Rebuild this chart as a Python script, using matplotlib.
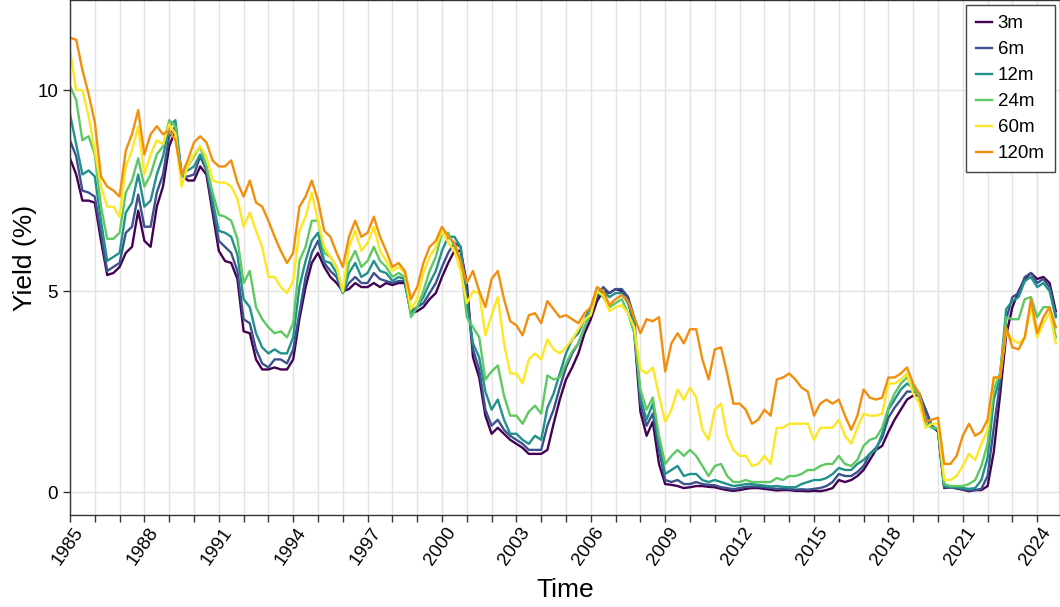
import numpy as np
import matplotlib
matplotlib.use("Agg")
import matplotlib.pyplot as plt
from matplotlib.transforms import ScaledTranslation

plt.rcParams['font.family'] = ['Liberation Sans', 'DejaVu Sans']

# quarterly readings, Q1 1985 .. Q4 2024
t = 1985 + np.arange(160) / 4

y3m = [8.3, 7.9, 7.25, 7.25, 7.2, 6.25, 5.4, 5.45, 5.6, 5.95, 6.1, 7.0, 6.25, 6.1, 7.1, 7.6,
       8.6, 9.0, 7.9, 7.75, 7.75, 8.1, 7.9, 6.95, 6.0, 5.75, 5.7, 5.3, 4.0, 3.95, 3.3, 3.05,
       3.05, 3.1, 3.05, 3.05, 3.3, 4.3, 5.1, 5.7, 5.95, 5.6, 5.35, 5.2, 5.0, 5.05, 5.2, 5.1,
       5.1, 5.2, 5.1, 5.2, 5.15, 5.2, 5.2, 4.45, 4.5, 4.6, 4.8, 4.95, 5.35, 5.7, 6.0, 6.0,
       5.2, 3.35, 2.85, 1.9, 1.45, 1.6, 1.45, 1.3, 1.2, 1.1, 0.95, 0.95, 0.95, 1.05, 1.7, 2.3,
       2.8, 3.1, 3.45, 3.95, 4.3, 4.75, 5.0, 4.95, 5.05, 5.0, 4.85, 4.0, 2.0, 1.4, 1.75, 0.7,
       0.2, 0.18, 0.15, 0.1, 0.12, 0.15, 0.15, 0.13, 0.12, 0.08, 0.05, 0.03, 0.05, 0.08, 0.1, 0.1,
       0.08, 0.06, 0.04, 0.05, 0.05, 0.03, 0.03, 0.02, 0.03, 0.02, 0.05, 0.1, 0.3, 0.25, 0.3, 0.4,
       0.55, 0.8, 1.05, 1.15, 1.5, 1.8, 2.05, 2.3, 2.4, 2.4, 2.05, 1.65, 1.5, 0.1, 0.12, 0.09,
       0.06, 0.02, 0.05, 0.05, 0.15, 1.0, 2.4, 3.9, 4.6, 5.0, 5.3, 5.45, 5.3, 5.35, 5.2, 4.5]
y6m = [8.75, 8.35, 7.5, 7.45, 7.35, 6.45, 5.5, 5.6, 5.7, 6.45, 6.6, 7.4, 6.6, 6.6, 7.45, 7.9,
       8.85, 9.1, 7.85, 7.85, 7.9, 8.35, 8.0, 7.1, 6.25, 6.1, 5.95, 5.5, 4.3, 4.2, 3.55, 3.2,
       3.1, 3.3, 3.3, 3.2, 3.55, 4.45, 5.35, 5.95, 6.25, 5.7, 5.5, 5.35, 4.95, 5.2, 5.35, 5.2,
       5.2, 5.45, 5.3, 5.25, 5.2, 5.25, 5.25, 4.5, 4.6, 4.7, 4.95, 5.2, 5.6, 5.95, 6.2, 6.1,
       5.0, 3.55, 3.05, 2.05, 1.65, 1.8, 1.55, 1.4, 1.3, 1.2, 1.05, 1.05, 1.05, 1.65, 2.05, 2.6,
       3.1, 3.45, 3.7, 4.1, 4.45, 4.85, 5.1, 4.95, 5.05, 5.05, 4.85, 4.35, 2.2, 1.65, 1.95, 1.05,
       0.3, 0.25, 0.3, 0.2, 0.2, 0.25, 0.2, 0.18, 0.17, 0.12, 0.1, 0.07, 0.1, 0.13, 0.14, 0.14,
       0.12, 0.1, 0.08, 0.09, 0.08, 0.06, 0.07, 0.06, 0.08, 0.1, 0.15, 0.25, 0.45, 0.4, 0.4, 0.5,
       0.65, 0.95, 1.1, 1.35, 1.85, 2.1, 2.3, 2.5, 2.5, 2.45, 2.05, 1.65, 1.55, 0.12, 0.12, 0.1,
       0.07, 0.04, 0.05, 0.08, 0.4, 1.6, 2.7, 4.3, 4.85, 4.95, 5.35, 5.45, 5.2, 5.3, 5.1, 4.4]
y12m = [9.4, 8.65, 7.9, 8.0, 7.85, 6.75, 5.75, 5.85, 5.95, 6.95, 7.2, 7.9, 7.1, 7.25, 7.9, 8.35,
        9.1, 9.25, 7.9, 8.0, 8.1, 8.4, 8.1, 7.25, 6.5, 6.45, 6.35, 5.9, 4.8, 4.6, 3.95, 3.6,
        3.45, 3.55, 3.45, 3.45, 3.85, 5.1, 5.75, 6.25, 6.45, 5.75, 5.7, 5.45, 4.95, 5.45, 5.7, 5.35,
        5.45, 5.75, 5.5, 5.45, 5.25, 5.35, 5.3, 4.45, 4.6, 4.85, 5.2, 5.5, 6.0, 6.35, 6.35, 6.1,
        4.7, 3.7, 3.35, 2.5, 2.05, 2.3, 1.8, 1.45, 1.45, 1.3, 1.2, 1.4, 1.3, 2.1, 2.45, 2.95,
        3.45, 3.8, 3.95, 4.3, 4.6, 5.0, 5.0, 4.85, 4.95, 4.95, 4.7, 4.2, 2.35, 1.8, 2.2, 1.2,
        0.45, 0.55, 0.65, 0.4, 0.45, 0.45, 0.3, 0.25, 0.3, 0.25, 0.2, 0.15, 0.17, 0.2, 0.2, 0.18,
        0.16, 0.14, 0.15, 0.13, 0.12, 0.12, 0.2, 0.25, 0.3, 0.3, 0.35, 0.45, 0.6, 0.55, 0.55, 0.7,
        0.8, 0.95, 1.05, 1.45, 2.05, 2.3, 2.55, 2.7, 2.6, 2.45, 1.85, 1.6, 1.55, 0.15, 0.12, 0.12,
        0.1, 0.08, 0.1, 0.3, 0.85, 2.3, 2.85, 4.55, 4.75, 4.85, 5.25, 5.35, 5.1, 5.2, 5.0, 4.35]
y24m = [10.1, 9.75, 8.75, 8.85, 8.4, 7.1, 6.3, 6.3, 6.45, 7.45, 7.75, 8.3, 7.6, 7.9, 8.4, 8.6,
        9.25, 9.1, 7.85, 8.1, 8.35, 8.6, 8.1, 7.45, 6.9, 6.85, 6.75, 6.3, 5.2, 5.5, 4.6, 4.3,
        4.1, 3.95, 4.0, 3.85, 4.2, 5.75, 6.1, 6.75, 6.75, 5.95, 5.85, 5.6, 4.95, 5.7, 6.0, 5.6,
        5.75, 6.1, 5.75, 5.6, 5.35, 5.45, 5.35, 4.35, 4.6, 5.0, 5.5, 5.85, 6.45, 6.45, 6.1, 5.75,
        4.35, 4.1, 3.85, 2.8, 3.0, 3.15, 2.4, 1.9, 1.9, 1.7, 2.0, 2.15, 1.95, 2.9, 2.8, 2.85,
        3.2, 3.5, 3.7, 4.1, 4.45, 5.0, 4.85, 4.6, 4.7, 4.8, 4.45, 3.95, 2.55, 2.05, 2.35, 1.4,
        0.7, 0.9, 1.05, 0.9, 1.05, 0.9, 0.65, 0.4, 0.65, 0.7, 0.4, 0.25, 0.25, 0.3, 0.25, 0.25,
        0.25, 0.25, 0.35, 0.3, 0.4, 0.4, 0.45, 0.55, 0.55, 0.65, 0.7, 0.7, 0.9, 0.7, 0.65, 0.8,
        1.15, 1.3, 1.35, 1.6, 2.1, 2.45, 2.7, 2.85, 2.6, 2.35, 1.7, 1.6, 1.6, 0.2, 0.15, 0.15,
        0.15, 0.2, 0.3, 0.65, 1.2, 2.55, 2.95, 4.35, 4.3, 4.3, 4.8, 4.85, 4.35, 4.6, 4.6, 3.85]
y60m = [11.0, 10.0, 10.0, 9.35, 8.5, 7.6, 7.1, 7.1, 6.85, 8.1, 8.5, 9.1, 7.9, 8.4, 8.75, 8.65,
        9.15, 8.9, 7.6, 8.1, 8.4, 8.6, 8.35, 7.75, 7.7, 7.7, 7.6, 7.3, 6.6, 6.95, 6.5, 6.1,
        5.35, 5.35, 5.1, 4.95, 5.25, 6.5, 6.85, 7.45, 6.75, 6.1, 5.85, 5.6, 5.0, 6.1, 6.5, 6.0,
        6.2, 6.6, 6.0, 5.75, 5.5, 5.6, 5.45, 4.55, 4.8, 5.45, 5.85, 6.1, 6.5, 6.2, 6.0, 5.5,
        4.7, 5.0, 4.95, 3.9, 4.4, 4.85, 3.7, 2.95, 2.95, 2.7, 3.3, 3.45, 3.3, 3.8, 3.55, 3.45,
        3.6, 3.8, 4.05, 4.3, 4.4, 5.0, 4.9, 4.5, 4.6, 4.65, 4.45, 4.1, 3.05, 2.95, 3.1, 2.4,
        1.75, 2.05, 2.55, 2.3, 2.6, 2.35, 1.55, 1.3, 2.05, 2.2, 1.4, 1.05, 0.9, 0.9, 0.65, 0.7,
        0.9, 0.7, 1.6, 1.6, 1.7, 1.7, 1.7, 1.7, 1.3, 1.6, 1.6, 1.6, 1.8, 1.4, 1.2, 1.6,
        1.95, 1.9, 1.9, 1.95, 2.7, 2.7, 2.8, 2.95, 2.45, 2.2, 1.6, 1.7, 1.7, 0.3, 0.3, 0.4,
        0.65, 0.95, 0.8, 1.2, 1.55, 2.85, 2.85, 4.0, 3.8, 3.7, 3.85, 4.6, 3.85, 4.2, 4.45, 3.7]
y120m = [11.3, 11.25, 10.5, 9.9, 9.2, 7.85, 7.6, 7.5, 7.35, 8.5, 8.9, 9.5, 8.4, 8.9, 9.1, 8.9,
         9.0, 8.75, 7.9, 8.25, 8.7, 8.85, 8.7, 8.25, 8.1, 8.1, 8.25, 7.7, 7.35, 7.75, 7.2, 7.1,
         6.75, 6.35, 6.0, 5.7, 5.95, 7.1, 7.35, 7.75, 7.25, 6.5, 6.35, 5.95, 5.6, 6.35, 6.75, 6.35,
         6.45, 6.85, 6.35, 6.0, 5.6, 5.7, 5.5, 4.8, 5.1, 5.7, 6.1, 6.25, 6.6, 6.35, 6.2, 5.75,
         5.2, 5.5, 5.0, 4.6, 5.3, 5.5, 4.8, 4.25, 4.15, 3.9, 4.4, 4.45, 4.2, 4.75, 4.55, 4.35,
         4.4, 4.3, 4.2, 4.45, 4.6, 5.1, 5.0, 4.65, 4.8, 4.9, 4.75, 4.35, 3.95, 4.3, 4.25, 4.35,
         3.0, 3.7, 3.95, 3.7, 4.05, 4.05, 3.3, 2.8, 3.55, 3.6, 2.95, 2.2, 2.2, 2.05, 1.7, 1.8,
         2.05, 1.9, 2.8, 2.85, 2.95, 2.8, 2.6, 2.5, 1.9, 2.2, 2.3, 2.2, 2.3, 1.9, 1.55, 1.9,
         2.55, 2.35, 2.3, 2.35, 2.85, 2.85, 2.95, 3.1, 2.7, 2.45, 1.75, 1.8, 1.85, 0.7, 0.7, 0.9,
         1.4, 1.7, 1.4, 1.5, 1.8, 2.85, 2.85, 4.1, 3.6, 3.55, 3.85, 4.8, 3.95, 4.35, 4.6, 4.1]

labels = ['3m', '6m', '12m', '24m', '60m', '120m']
series = [y3m, y6m, y12m, y24m, y60m, y120m]
colors = ['#440154', '#3b528b', '#21918c', '#5ec962', '#fde725', '#f28e0c']
year_ticks = list(range(1985, 2025, 3))

fig = plt.figure(figsize=(10.6, 6.07), dpi=100)
ax = fig.add_axes([70/1060, 92/607, 990/1060, 515/607])

for lab, ys, c in zip(labels, series, colors):
    ax.plot(t, ys, color=c, lw=1.7, label=lab)

ax.set_xlim(1985, 2024.92)
ax.set_ylim(-0.57, 12.24)
ax.set_xticks(year_ticks)
ax.set_xticks(range(1985, 2025), minor=True)
ax.set_yticks([0, 5, 10])
ax.grid(True, which='both', color='#e3e3e3', lw=1)
ax.set_axisbelow(True)

ax.tick_params(axis='both', which='both', direction='out', length=5, width=1,
               color='#333333', labelsize=13.5)
ax.tick_params(axis='x', pad=4)
shift = ScaledTranslation(0.1, -0.02, fig.dpi_scale_trans)
for lbl in ax.get_xticklabels():
    lbl.set_rotation(55)
    lbl.set_ha('right')
    lbl.set_va('center')
    lbl.set_rotation_mode('anchor')
    lbl.set_transform(lbl.get_transform() + shift)

for s in ax.spines.values():
    s.set_color('#333333')
    s.set_linewidth(1)

ax.set_xlabel('Time', fontsize=19)
ax.set_ylabel('Yield (%)', fontsize=19)
ax.xaxis.set_label_coords(0.5, -75/515)
ax.yaxis.set_label_coords(-45/990, 0.5)
ax.xaxis.label.set_va('center')
ax.yaxis.label.set_va('center')

ax.legend(loc='upper right', bbox_to_anchor=(1 - 5/990, 1 - 5/515), borderaxespad=0,
          fancybox=False, edgecolor='#444444', framealpha=1, fontsize=13.5,
          handlelength=0.85, handletextpad=0.3, labelspacing=0.47, borderpad=0.55)

fig.savefig('out.png', dpi=100)
